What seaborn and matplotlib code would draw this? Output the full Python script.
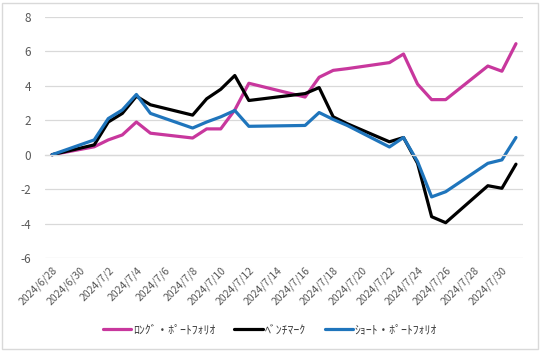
import pandas as pd
import numpy as np
import matplotlib
matplotlib.use("Agg")
import matplotlib.pyplot as plt
import seaborn as sns
from matplotlib.patches import Rectangle

# trading days (7/15 is a holiday)
dates = pd.to_datetime([
    "2024-06-28", "2024-07-01", "2024-07-02", "2024-07-03", "2024-07-04", "2024-07-05",
    "2024-07-08", "2024-07-09", "2024-07-10", "2024-07-11", "2024-07-12",
    "2024-07-16", "2024-07-17", "2024-07-18", "2024-07-19",
    "2024-07-22", "2024-07-23", "2024-07-24", "2024-07-25", "2024-07-26",
    "2024-07-29", "2024-07-30", "2024-07-31",
])
long_pf = [0, 0.46, 0.86, 1.15, 1.9, 1.25, 0.97, 1.5, 1.5, 2.6, 4.15,
           3.35, 4.5, 4.9, 5.0, 5.35, 5.85, 4.1, 3.2, 3.2, 5.15, 4.85, 6.45]
benchmark = [0, 0.57, 1.9, 2.4, 3.4, 2.9, 2.3, 3.25, 3.8, 4.6, 3.15,
             3.55, 3.9, 2.2, 1.8, 0.75, 1.0, -0.5, -3.6, -3.95, -1.8, -1.95, -0.55]
short_pf = [0, 0.86, 2.1, 2.6, 3.5, 2.4, 1.55, 1.9, 2.2, 2.57, 1.65,
            1.7, 2.45, 2.05, 1.7, 0.45, 1.0, -0.4, -2.45, -2.15, -0.5, -0.3, 1.0]

series_names = ["ﾛﾝｸﾞ・ﾎﾟｰﾄﾌｫﾘｵ", "ﾍﾞﾝﾁﾏｰｸ", "ｼｮｰﾄ・ﾎﾟｰﾄﾌｫﾘｵ"]
colors = ["#C8379D", "#000000", "#1F75BC"]
y_ticks = [-6, -4, -2, 0, 2, 4, 6, 8]

df = pd.DataFrame({"date": dates, series_names[0]: long_pf,
                   series_names[1]: benchmark, series_names[2]: short_pf})
df_long = df.melt(id_vars="date", var_name="series", value_name="value")

sns.set_theme(style="white")
plt.rcParams["font.family"] = ["Noto Sans CJK JP", "DejaVu Sans"]

fig = plt.figure(figsize=(5.4, 3.52), dpi=100)
ax = fig.add_axes([45 / 540, 1 - 258 / 352, (523 - 45) / 540, (258 - 17) / 352])

sns.lineplot(data=df_long, x="date", y="value", hue="series", hue_order=series_names,
             palette=dict(zip(series_names, colors)), linewidth=2.3, ax=ax, legend=False)

ax.set_ylim(-6, 8)
ax.set_yticks(y_ticks)
ax.set_yticklabels([str(v) for v in y_ticks], color="#595959", fontsize=8.5)
ax.tick_params(axis="y", length=0, pad=10)
ax.yaxis.grid(True, color="#D9D9D9", linewidth=0.9)
ax.xaxis.grid(False)
for s in ["top", "right", "left"]:
    ax.spines[s].set_visible(False)

# axis line with tick marks at y=0, date labels at the bottom
ax.spines["bottom"].set_position(("data", 0))
ax.spines["bottom"].set_color("#D9D9D9")
ax.spines["bottom"].set_linewidth(0.9)
bounds = pd.date_range("2024-06-27 12:00", periods=18, freq="2D")
ax.set_xlim(bounds[0], bounds[-1])
ax.set_xticks(bounds)
ax.set_xticklabels([])
ax.tick_params(axis="x", length=5, color="#D9D9D9", width=0.9, direction="out")
ax.set_xlabel("")
ax.set_ylabel("")

label_dates = pd.date_range("2024-06-28", "2024-07-30", freq="2D")
sec = ax.secondary_xaxis(location=0)
sec.set_xticks(label_dates)
sec.set_xticklabels([f"{d.year}/{d.month}/{d.day}" for d in label_dates],
                    rotation=45, ha="right", rotation_mode="anchor",
                    color="#595959", fontsize=7.5)
sec.tick_params(length=0, pad=5)
sec.spines["bottom"].set_visible(False)

handles = [plt.Line2D([], [], color=c, linewidth=2.3) for c in colors]
fig.legend(handles, series_names, loc="center", bbox_to_anchor=(0.5, 1 - 330 / 352),
           ncol=3, frameon=False, fontsize=8.5, handlelength=2.4, handletextpad=0.15,
           columnspacing=1.6, labelcolor="#404040")

fig.patches.append(Rectangle((2 / 540, 3 / 352), 536 / 540, 346 / 352,
                             transform=fig.transFigure, fill=False,
                             edgecolor="#D9D9D9", linewidth=1))

fig.savefig("out.png", dpi=100)
